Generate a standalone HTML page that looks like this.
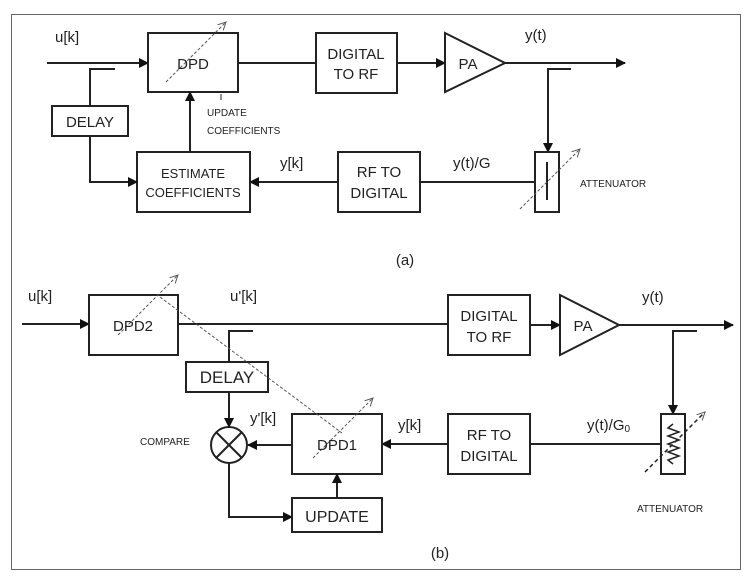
<!DOCTYPE html>
<html><head><style>body{margin:0;background:#fff}svg{display:block}text{font-family:"Liberation Sans",sans-serif;fill:#222}</style></head>
<body>
<svg width="756" height="582" viewBox="0 0 756 582" xmlns="http://www.w3.org/2000/svg">
<defs>
<marker id="a" markerWidth="10" markerHeight="10" refX="9" refY="5" orient="auto" markerUnits="userSpaceOnUse"><path d="M0,0 L10,5 L0,10 z" fill="#111"/></marker>
<marker id="o" markerWidth="10" markerHeight="10" refX="8" refY="5" orient="auto" markerUnits="userSpaceOnUse"><path d="M0,1 L8,5 L0,9" fill="none" stroke="#555" stroke-width="1"/></marker>
</defs>
<rect x="11.5" y="14.5" width="729" height="555" fill="none" stroke="#666" stroke-width="1"/>
<g stroke="#222" stroke-width="2" fill="none">
<!-- (a) -->
<line x1="47" y1="63" x2="148" y2="63" marker-end="url(#a)"/>
<rect x="148" y="33" width="90" height="59"/>
<line x1="238" y1="63" x2="316" y2="63"/>
<rect x="316" y="33" width="81" height="60"/>
<line x1="397" y1="63" x2="445" y2="63" marker-end="url(#a)"/>
<path d="M445,33 L505,63 L445,92 z"/>
<line x1="505" y1="63" x2="625" y2="63" marker-end="url(#a)"/>
<path d="M571,69 L548,69 L548,152" />
<line x1="548" y1="140" x2="548" y2="152" marker-end="url(#a)"/>
<rect x="535" y="152" width="24" height="60"/>
<line x1="547" y1="162" x2="547" y2="200"/>
<line x1="535" y1="182" x2="420" y2="182"/>
<rect x="338" y="152" width="82" height="60"/>
<line x1="338" y1="182" x2="250" y2="182" marker-end="url(#a)"/>
<rect x="137" y="152" width="113" height="60"/>
<line x1="190" y1="152" x2="190" y2="92" marker-end="url(#a)"/>
<line x1="221" y1="94" x2="221" y2="100" stroke-width="1"/>
<rect x="52" y="106" width="76" height="30"/>
<path d="M90,106 L90,69 L115,69"/>
<path d="M90,136 L90,182 L137,182" marker-end="url(#a)"/>
<!-- (b) -->
<line x1="22" y1="324" x2="89" y2="324" marker-end="url(#a)"/>
<rect x="89" y="295" width="89" height="60"/>
<line x1="178" y1="324" x2="448" y2="324"/>
<rect x="448" y="295" width="82" height="60"/>
<line x1="530" y1="325" x2="560" y2="325" marker-end="url(#a)"/>
<path d="M560,295 L619,325 L560,355 z"/>
<line x1="619" y1="325" x2="733" y2="325" marker-end="url(#a)"/>
<path d="M697,331 L673,331 L673,414" marker-end="url(#a)"/>
<rect x="661" y="414" width="24" height="60"/>
<polyline stroke-width="1.5" points="673,424 668,428 679,432 668,436 679,440 668,444 679,448 668,452 679,456 668,460 673,464"/>
<line x1="661" y1="444" x2="530" y2="444"/>
<rect x="448" y="414" width="82" height="60"/>
<line x1="448" y1="444" x2="382" y2="444" marker-end="url(#a)"/>
<rect x="292" y="414" width="90" height="60"/>
<line x1="292" y1="445" x2="248" y2="445" marker-end="url(#a)"/>
<circle cx="229" cy="445" r="18"/>
<line x1="216" y1="432" x2="242" y2="458"/>
<line x1="242" y1="432" x2="216" y2="458"/>
<rect x="186" y="362" width="82" height="30"/>
<path d="M229,362 L229,331 L253,331"/>
<line x1="229" y1="392" x2="229" y2="427" marker-end="url(#a)"/>
<path d="M229,463 L229,517 L292,517" marker-end="url(#a)"/>
<rect x="292" y="498" width="90" height="34"/>
<line x1="337" y1="498" x2="337" y2="474" marker-end="url(#a)"/>
</g>
<g stroke="#555" stroke-width="1" stroke-dasharray="3,2" fill="none">
<line x1="166" y1="82" x2="226" y2="22" marker-end="url(#o)"/>
<line x1="520" y1="209" x2="580" y2="149" marker-end="url(#o)"/>
<line x1="118" y1="335" x2="178" y2="275" marker-end="url(#o)"/>
<line x1="160" y1="297" x2="342" y2="433"/>
<line x1="313" y1="458" x2="373" y2="398" marker-end="url(#o)"/>
</g>
<line x1="645" y1="472" x2="705" y2="412" stroke="#222" stroke-width="1.5" stroke-dasharray="4,3" marker-end="url(#o)"/>
<g font-size="15">
<text x="55" y="42">u[k]</text>
<text x="193" y="69" text-anchor="middle">DPD</text>
<text x="356" y="59" text-anchor="middle">DIGITAL</text>
<text x="356" y="79" text-anchor="middle">TO RF</text>
<text x="468" y="69" text-anchor="middle">PA</text>
<text x="525" y="40">y(t)</text>
<text x="453" y="168">y(t)/G</text>
<text x="379" y="177" text-anchor="middle">RF TO</text>
<text x="379" y="198" text-anchor="middle">DIGITAL</text>
<text x="280" y="168">y[k]</text>
<text x="193" y="178" text-anchor="middle" font-size="13">ESTIMATE</text>
<text x="193" y="197" text-anchor="middle" font-size="13">COEFFICIENTS</text>
<text x="90" y="127" text-anchor="middle">DELAY</text>
<text x="405" y="265" text-anchor="middle">(a)</text>
<text x="28" y="301">u[k]</text>
<text x="133" y="331" text-anchor="middle">DPD2</text>
<text x="230" y="301">u'[k]</text>
<text x="489" y="321" text-anchor="middle">DIGITAL</text>
<text x="489" y="342" text-anchor="middle">TO RF</text>
<text x="583" y="331" text-anchor="middle">PA</text>
<text x="642" y="302">y(t)</text>
<text x="587" y="430">y(t)/G<tspan font-size="10" dy="2">0</tspan></text>
<text x="489" y="440" text-anchor="middle">RF TO</text>
<text x="489" y="461" text-anchor="middle">DIGITAL</text>
<text x="398" y="430">y[k]</text>
<text x="337" y="450" text-anchor="middle">DPD1</text>
<text x="250" y="423">y'[k]</text>
<text x="227" y="383" text-anchor="middle" font-size="17">DELAY</text>
<text x="337" y="522" text-anchor="middle" font-size="16">UPDATE</text>
<text x="440" y="558" text-anchor="middle">(b)</text>
</g>
<g font-size="10" fill="#333">
<text x="207" y="116">UPDATE</text>
<text x="207" y="134">COEFFICIENTS</text>
<text x="580" y="187">ATTENUATOR</text>
<text x="637" y="512">ATTENUATOR</text>
<text x="140" y="445">COMPARE</text>
</g>
</svg>
</body></html>
